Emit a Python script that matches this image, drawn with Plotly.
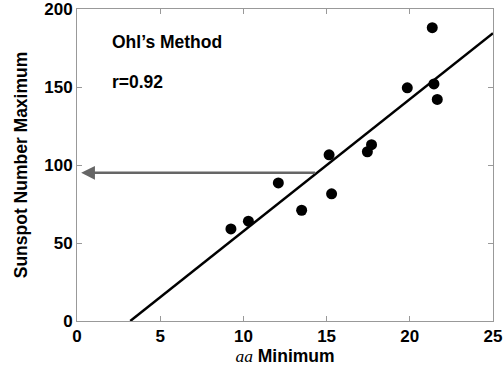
import plotly.graph_objects as go

# data
aa_min = [9.25, 10.3, 12.1, 13.5, 15.15, 15.3, 17.45, 17.7, 19.85, 21.35, 21.45, 21.65]
ssn_max = [59, 64, 88.5, 71, 106.5, 81.5, 108.5, 113, 149.5, 188, 152, 142]

fit_x = [3.2, 25.0]
fit_y = [0.0, 184.5]

arrow_from = (14.4, 95.0)
arrow_to = (0.25, 95.0)

x_ticks = [0, 5, 10, 15, 20, 25]
y_ticks = [0, 50, 100, 150, 200]

FONT = "Liberation Sans, Arial, sans-serif"

fig = go.Figure()
fig.add_trace(go.Scatter(x=fit_x, y=fit_y, mode="lines",
                         line=dict(color="black", width=2.5), hoverinfo="skip"))
fig.add_trace(go.Scatter(x=aa_min, y=ssn_max, mode="markers",
                         marker=dict(color="black", size=11)))

fig.add_annotation(x=arrow_to[0], y=arrow_to[1], ax=arrow_from[0], ay=arrow_from[1],
                   xref="x", yref="y", axref="x", ayref="y", text="",
                   showarrow=True, arrowhead=2, arrowsize=1.1, arrowwidth=2.5,
                   arrowcolor="#666666")

fig.add_annotation(x=2.0, y=178.8, xref="x", yref="y", text="Ohl’s Method",
                   showarrow=False, xanchor="left", yanchor="middle",
                   font=dict(family=FONT, size=17.5, color="black", weight="bold"))
fig.add_annotation(x=2.0, y=153.2, xref="x", yref="y", text="r=0.92",
                   showarrow=False, xanchor="left", yanchor="middle",
                   font=dict(family=FONT, size=17.5, color="black", weight="bold"))

axis_common = dict(showgrid=False, zeroline=False, showline=True, linecolor="#999999",
                   linewidth=1, mirror="ticks", ticks="inside", ticklen=5,
                   tickcolor="#999999", tickwidth=1, automargin=False,
                   ticklabeloverflow="allow",
                   tickfont=dict(family=FONT, size=17, color="black", weight="bold"))

fig.update_xaxes(range=[0, 25], tickvals=x_ticks,
                 title=dict(text="<i><span style='font-family:Liberation Serif; font-weight:normal'>aa</span></i> Minimum",
                            font=dict(family=FONT, size=17.5, color="black", weight="bold"),
                            standoff=4),
                 **axis_common)
fig.update_yaxes(range=[0, 200], tickvals=y_ticks,
                 title=dict(text="Sunspot Number Maximum",
                            font=dict(family=FONT, size=17.5, color="black", weight="bold"),
                            standoff=12),
                 **axis_common)

fig.update_layout(width=504, height=368, margin=dict(l=77, r=11, t=9, b=47),
                  plot_bgcolor="white", paper_bgcolor="white", showlegend=False)

fig.write_html("out.html", config={"displayModeBar": False},
               post_script="document.body.style.margin='0';document.body.style.overflow='hidden';")
